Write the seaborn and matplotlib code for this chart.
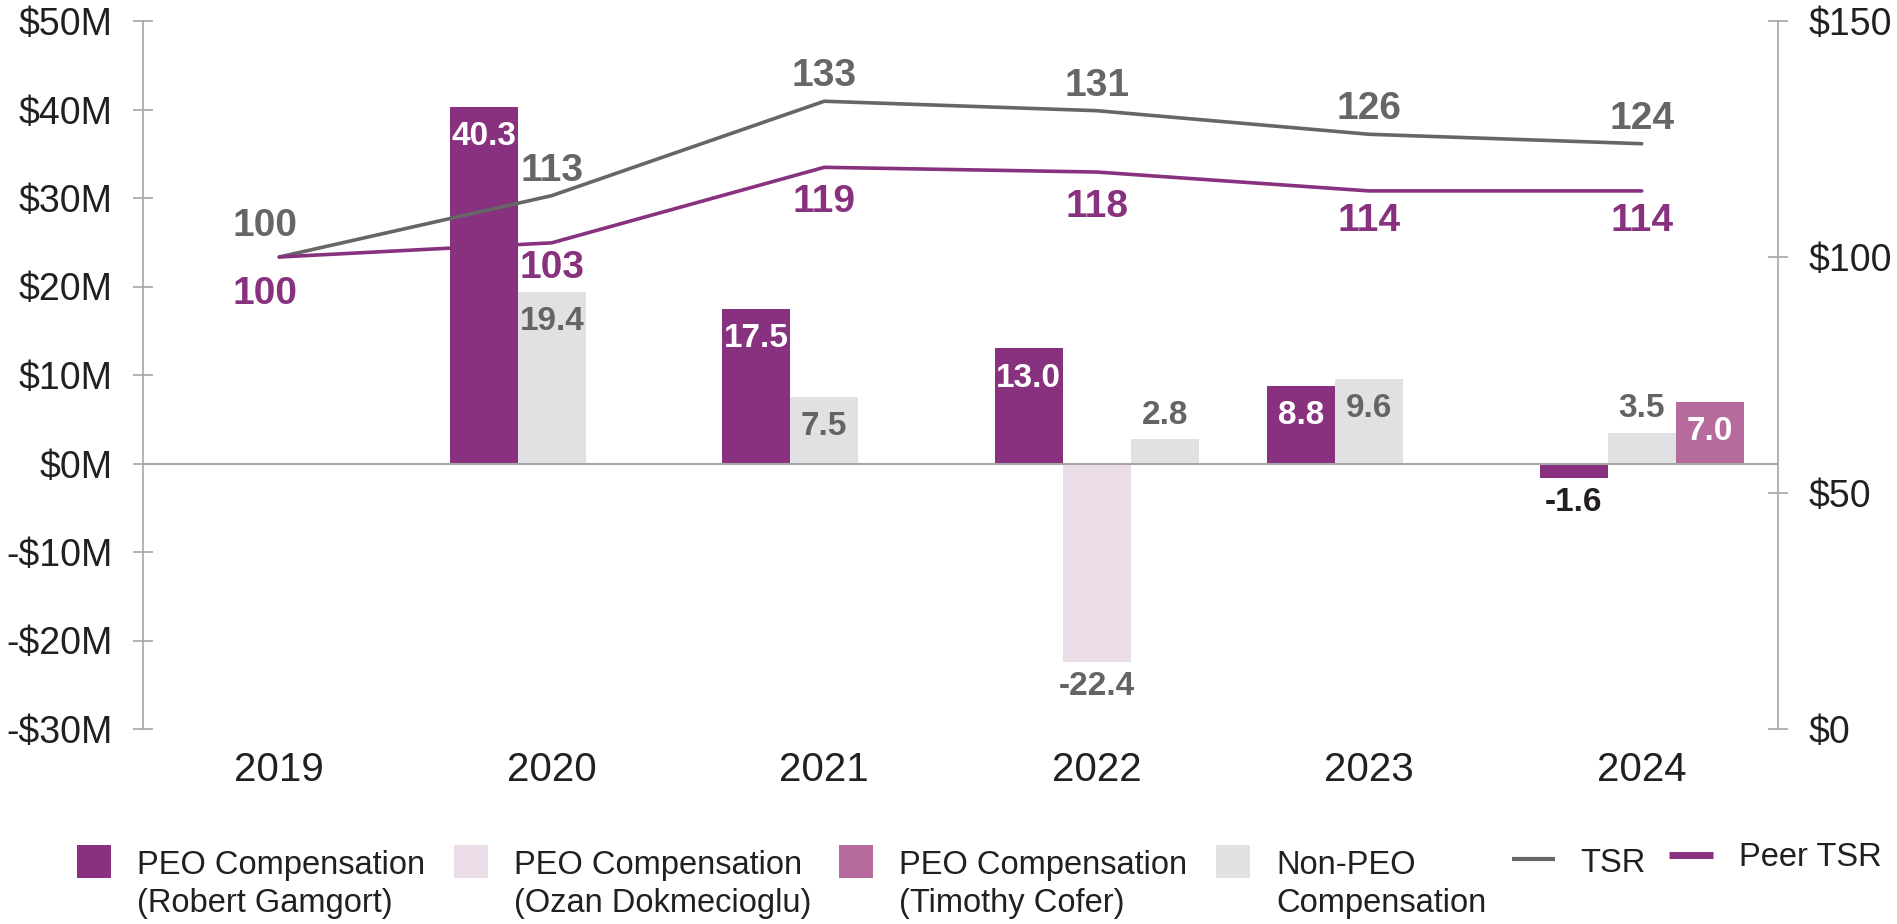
import numpy as np
import pandas as pd
import matplotlib
matplotlib.use("Agg")
import matplotlib.pyplot as plt
import seaborn as sns
from matplotlib.patches import Rectangle
from matplotlib.lines import Line2D

# ---------------- data ----------------
years = ["2019", "2020", "2021", "2022", "2023", "2024"]
peo_gamgort = [np.nan, 40.3, 17.5, 13.0, 8.8, -1.6]
peo_ozan = [np.nan, np.nan, np.nan, -22.4, np.nan, np.nan]
non_peo = [np.nan, 19.4, 7.5, 2.8, 9.6, 3.5]
peo_cofer = [np.nan, np.nan, np.nan, np.nan, np.nan, 7.0]
tsr = [100, 113, 133, 131, 126, 124]
peer_tsr = [100, 103, 119, 118, 114, 114]
left_ticks = [-30, -20, -10, 0, 10, 20, 30, 40, 50]
right_ticks = [0, 50, 100, 150]
legend_bar_labels = ["PEO Compensation\n(Robert Gamgort)",
                     "PEO Compensation\n(Ozan Dokmecioglu)",
                     "PEO Compensation\n(Timothy Cofer)",
                     "Non-PEO\nCompensation"]
legend_line_labels = ["TSR", "Peer TSR"]

# ---------------- style ----------------
C_GAM = "#88317F"
C_OZAN = "#EBDDE7"
C_COFER = "#B76A9C"
C_NON = "#E0E1E2"
C_TSR = "#666666"
C_PEER = "#88317F"
C_LBL_GRAY = "#646464"
C_TXT = "#231F20"
C_SPINE = "#A6A6A6"

# label nudges (points): first point labels are spread a little further
tsr_dy = [22, 18, 18, 18, 18, 18]
peer_dy = [-27, -18, -25, -25, -22, -22]
lbl_dx = [-10, 0, 0, 0, 0, 0]

sns.set_theme(style="white")
plt.rcParams["font.family"] = ["Liberation Sans", "DejaVu Sans"]

W, H = 1897, 924
fig = plt.figure(figsize=(W / 100, H / 100), dpi=100)
ax = fig.add_axes([143 / W, 1 - 729 / H, (1778 - 143) / W, (729 - 21) / H])
ax2 = ax.twinx()

# bar series in slot order: (values, color, inside label color, outside label color)
series = [
    (peo_gamgort, C_GAM, "white", C_TXT),
    (peo_ozan, C_OZAN, C_LBL_GRAY, C_LBL_GRAY),
    (non_peo, C_NON, C_LBL_GRAY, C_LBL_GRAY),
    (peo_cofer, C_COFER, "white", C_TXT),
]
bw = 0.25
for i in range(len(years)):
    present = [s for s in series if not np.isnan(s[0][i])]
    for k, (vals, col, cin, cout) in enumerate(present):
        v = vals[i]
        x = i + (k - 1) * bw
        ax.bar(x, v, width=bw, color=col, edgecolor="none", zorder=2)
        if v >= 5:
            ax.annotate(f"{v:.1f}", (x, v), xytext=(0, -21.5), textcoords="offset points",
                        ha="center", va="center", fontsize=24, fontweight="bold", color=cin, zorder=5)
        elif v >= 0:
            ax.annotate(f"{v:.1f}", (x, v), xytext=(0, 17), textcoords="offset points",
                        ha="center", va="center", fontsize=24, fontweight="bold", color=cout, zorder=5)
        else:
            ax.annotate(f"{v:.1f}", (x, v), xytext=(0, -18), textcoords="offset points",
                        ha="center", va="center", fontsize=24, fontweight="bold", color=cout, zorder=5)

ax.axhline(0, color=C_SPINE, lw=1.5, zorder=3)

# lines
df = pd.DataFrame({"pos": np.arange(len(years)), "tsr": tsr, "peer": peer_tsr})
sns.lineplot(data=df, x="pos", y="tsr", ax=ax2, color=C_TSR, linewidth=2.6, legend=False)
sns.lineplot(data=df, x="pos", y="peer", ax=ax2, color=C_PEER, linewidth=2.6, legend=False)
for i, (t, p) in enumerate(zip(tsr, peer_tsr)):
    ax2.annotate(str(t), (i, t), xytext=(lbl_dx[i], tsr_dy[i]), textcoords="offset points",
                 ha="center", va="center", fontsize=28, fontweight="bold", color=C_TSR)
    ax2.annotate(str(p), (i, p), xytext=(lbl_dx[i], peer_dy[i]), textcoords="offset points",
                 ha="center", va="center", fontsize=28, fontweight="bold", color=C_PEER)

# axes
ax.set_xlim(-0.5, len(years) - 0.5)
ax.set_ylim(-30, 50)
ax2.set_ylim(0, 150)
ax.set_xticks(range(len(years)))
ax.set_xticklabels(years)
ax.set_yticks(left_ticks)
ax.set_yticklabels([f"-${-t}M" if t < 0 else f"${t}M" for t in left_ticks])
ax2.set_yticks(right_ticks)
ax2.set_yticklabels([f"${t}" for t in right_ticks])
for a in (ax, ax2):
    a.set_xlabel("")
    a.set_ylabel("")
    a.grid(False)
    for s in a.spines.values():
        s.set_visible(False)
ax.spines["left"].set_visible(True)
ax.spines["left"].set_color(C_SPINE)
ax.spines["left"].set_linewidth(1.2)
ax2.spines["right"].set_visible(True)
ax2.spines["right"].set_color(C_SPINE)
ax2.spines["right"].set_linewidth(1.2)
ax.tick_params(axis="y", left=True, direction="inout", length=15, width=1.2, color=C_SPINE,
               pad=14.5, labelsize=27, labelcolor=C_TXT)
ax2.tick_params(axis="y", right=True, direction="inout", length=15, width=1.2, color=C_SPINE,
                pad=14.5, labelsize=27, labelcolor=C_TXT)
ax.tick_params(axis="x", length=0, pad=16, labelsize=29, labelcolor=C_TXT)

# legend (manual, pixel layout)
def fx(px):
    return px / W

def fy(py):
    return 1 - py / H

bar_cols = [C_GAM, C_OZAN, C_COFER, C_NON]
sq_x = [77, 454, 839, 1216]
for lab, col, x0 in zip(legend_bar_labels, bar_cols, sq_x):
    fig.add_artist(Rectangle((fx(x0), fy(878)), 34 / W, 33 / H, transform=fig.transFigure,
                             facecolor=col, edgecolor="none"))
    fig.text(fx(x0 + 60), fy(850), lab, ha="left", va="top", fontsize=23.5, color=C_TXT,
             linespacing=1.3)
line_specs = [(1512, 1555, 859, C_TSR, 3.0, 1580, 864),
              (1669, 1713, 855, C_PEER, 5.0, 1739, 858)]
for lab, (x0, x1, yy, col, lw, tx, ty) in zip(legend_line_labels, line_specs):
    fig.add_artist(Line2D([fx(x0), fx(x1)], [fy(yy), fy(yy)], transform=fig.transFigure,
                          color=col, lw=lw, solid_capstyle="butt"))
    fig.text(fx(tx), fy(ty), lab, ha="left", va="center", fontsize=23.5, color=C_TXT)

fig.savefig("out.png", dpi=100)
